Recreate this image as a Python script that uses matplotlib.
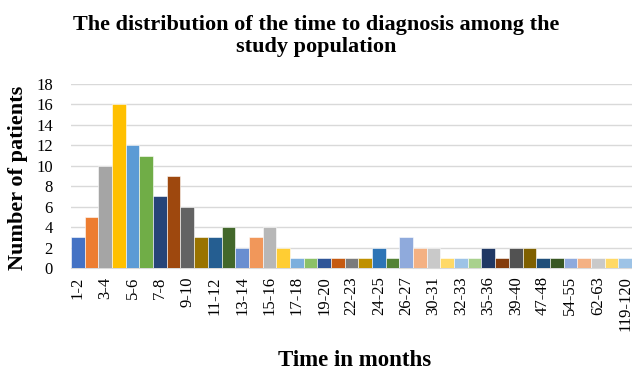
import matplotlib.pyplot as plt

# counts per time bin (41 bins, only every other one is labelled)
counts = [3, 5, 10, 16, 12, 11, 7, 9, 6, 3, 3, 4, 2, 3, 4, 2, 1, 1, 1, 1, 1,
          1, 2, 1, 3, 2, 2, 1, 1, 1, 2, 1, 2, 2, 1, 1, 1, 1, 1, 1, 1]
tick_labels = ['1-2', '3-4', '5-6', '7-8', '9-10', '11-12', '13-14', '15-16',
               '17-18', '19-20', '22-23', '24-25', '26-27', '30-31', '32-33',
               '35-36', '39-40', '47-48', '54-55', '62-63', '119-120']
palette = ['#4472C4', '#ED7D31', '#A5A5A5', '#FFC000', '#5B9BD5', '#70AD47',
           '#264478', '#9E480E', '#636363', '#997300', '#255E91', '#43682B',
           '#698ED0', '#F1975A', '#B7B7B7', '#FFCD33', '#7CAFDD', '#8CC168',
           '#2F5597', '#C55A11', '#7B7B7B', '#BF9000', '#2E75B6', '#548235',
           '#8FAADC', '#F4B183', '#C9C9C9', '#FFD966', '#9DC3E6', '#A9D18E',
           '#203864', '#843C0C', '#525252', '#7F6000', '#1F4E79', '#385723',
           '#8FAADC', '#F4B183', '#C9C9C9', '#FFD966', '#9DC3E6']

plt.rcParams['font.family'] = 'Liberation Serif'

fig = plt.figure(figsize=(6.32, 3.72), dpi=100)
ax = fig.add_axes([71/632, 1-268/372, 561/632, 184/372])

x = list(range(len(counts)))
ax.bar(x, counts, width=1.0, color=palette[:len(counts)], edgecolor='white', linewidth=0.4, zorder=3)

ax.set_xlim(-0.5, len(counts) - 0.5)
ax.set_ylim(0, 18)
ax.set_yticks(range(0, 19, 2))
ax.set_xticks(x[::2])
ax.set_xticklabels(tick_labels, rotation=90, fontsize=12)
ax.tick_params(axis='y', labelsize=12, length=0, pad=13)
ax.tick_params(axis='x', length=0, pad=6)
ax.grid(axis='y', color='#D9D9D9', linewidth=1, zorder=0)
for s in ['top', 'right', 'left']:
    ax.spines[s].set_visible(False)
ax.spines['bottom'].set_color('#D9D9D9')

fig.text(0.5, 1-36/372, 'The distribution of the time to diagnosis among the\nstudy population',
         ha='center', va='center', fontsize=16, fontweight='bold', linespacing=1.1)
fig.text(18/632, 1-178/372, 'Number of patients', rotation=90, ha='center', va='center',
         fontsize=16, fontweight='bold')
fig.text(355/632, 1-361/372, 'Time in months', ha='center', va='center',
         fontsize=16.5, fontweight='bold')

plt.savefig('out.png', dpi=100)
